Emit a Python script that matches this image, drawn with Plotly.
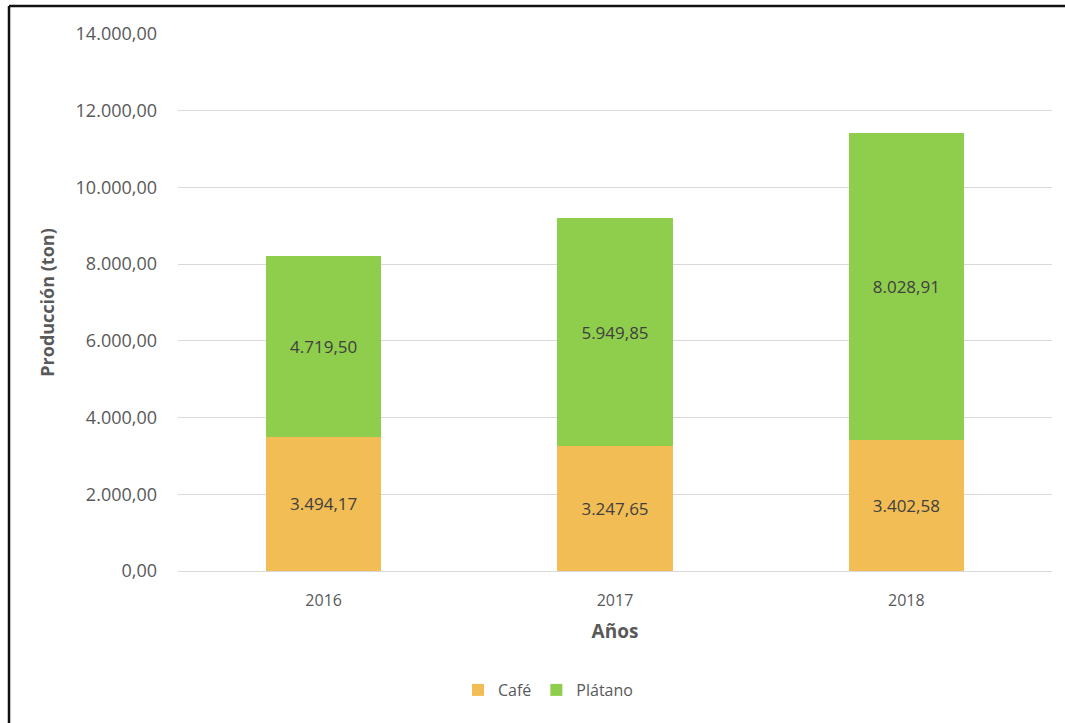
import plotly.graph_objects as go

years = ["2016", "2017", "2018"]
cafe = [3494.17, 3247.65, 3402.58]
platano = [4719.50, 5949.85, 8028.91]
y_ticks = [0, 2000, 4000, 6000, 8000, 10000, 12000, 14000]

FONT = "Open Sans"
fig = go.Figure()
fig.add_trace(go.Bar(
    x=years, y=cafe, name="Café",
    marker=dict(color="#F2BD55", line=dict(width=0)),
    texttemplate="%{y:,.2f}", textposition="inside", insidetextanchor="middle",
    textfont=dict(family=FONT, size=17, color="#404040"),
))
fig.add_trace(go.Bar(
    x=years, y=platano, name="Plátano",
    marker=dict(color="#8FCE4C", line=dict(width=0)),
    texttemplate="%{y:,.2f}", textposition="inside", insidetextanchor="middle",
    textfont=dict(family=FONT, size=17, color="#404040"),
))

L, R, T, B = 178, 13, 34, 152
W, H = 1065, 723
pw, ph = W - L - R, H - T - B

def px(x):
    return (x - L) / pw

def py(y):
    return (H - B - y) / ph

fig.update_layout(
    width=W, height=H,
    barmode="stack", bargap=0.605,
    separators=",.",
    plot_bgcolor="white", paper_bgcolor="white",
    margin=dict(l=L, r=R, t=T, b=B),
    font=dict(family=FONT, size=16, color="#595959"),
    xaxis=dict(
        title=dict(text="<b>Años</b>", font=dict(family=FONT, size=19, color="#595959"), standoff=14),
        showgrid=False, showline=False, ticks="", ticklabelstandoff=18,
        tickfont=dict(size=16, color="#595959"),
    ),
    yaxis=dict(
        title=dict(text="<b>Producción (ton)</b>", font=dict(family=FONT, size=18, color="#595959"), standoff=16),
        range=[0, 14000], tickvals=y_ticks, tickformat=",.2f",
        showgrid=True, gridcolor="#D9D9D9", gridwidth=1,
        zeroline=True, zerolinecolor="#D9D9D9", zerolinewidth=1,
        showline=False, ticks="", ticklabelstandoff=20,
        tickfont=dict(size=18, color="#595959"),
    ),
    legend=dict(
        orientation="h", x=px(548), xanchor="center", y=py(690), yanchor="middle",
        font=dict(family=FONT, size=16, color="#595959"), traceorder="normal",
    ),
    shapes=[
        dict(type="line", xref="paper", yref="paper", x0=px(9), x1=px(9), y0=py(6), y1=py(730),
             line=dict(color="#111111", width=2.5)),
        dict(type="line", xref="paper", yref="paper", x0=px(9), x1=px(1070), y0=py(6), y1=py(6),
             line=dict(color="#111111", width=2.5)),
    ],
)

fig.write_html("out.html", config={"displayModeBar": False},
               post_script="document.body.style.margin='0px';")
